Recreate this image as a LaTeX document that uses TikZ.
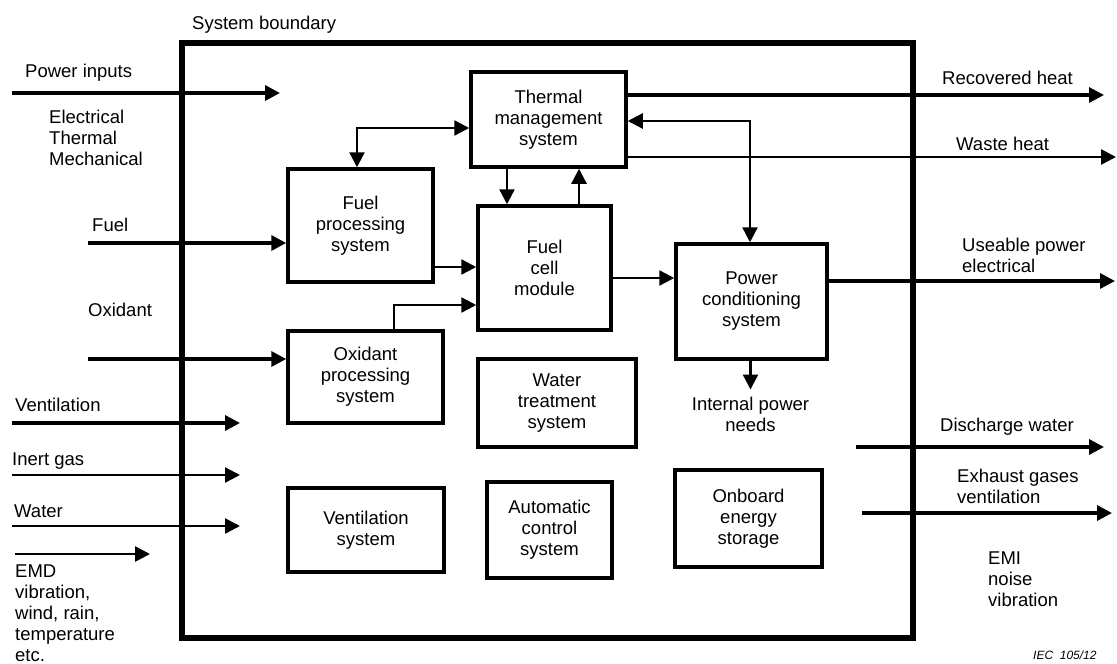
\documentclass[tikz,border=0pt]{standalone}
\usepackage{fontspec}
\setmainfont{Liberation Sans}
\usetikzlibrary{arrows.meta,calc}
\begin{document}
\begin{tikzpicture}[x=1pt,y=-1pt,
  txt/.style={font=\fontsize{18.5}{21}\selectfont},
  box/.style={txt,draw,line width=3.5pt,align=center,inner sep=0pt},
  lbl/.style={txt,align=left,inner sep=0pt,anchor=north west},
  arr/.style={line width=3pt,-{Triangle[length=15pt,width=15pt]}},
  arrthin/.style={line width=2.4pt,-{Triangle[length=15pt,width=15pt]}},
  arrboth/.style={line width=2.4pt,{Triangle[length=15pt,width=15pt]}-{Triangle[length=15pt,width=15pt]}}]
\useasboundingbox (0,0) rectangle (1117,664);
\fill[white] (0,0) rectangle (1117,664);

% system boundary
\node[draw,line width=5.2pt,minimum width=731pt,minimum height=595pt,inner sep=0pt] (sb) at (547.5,340.5) {};
\node[lbl] (sbl) at (192,16) {System boundary};

% boxes
\node[box,minimum width=145pt,minimum height=113pt] (fp) at (360.5,225.5) {Fuel\\processing\\system};
\node[box,minimum width=155pt,minimum height=95pt] (tms) at (548.5,119.5) {Thermal\\management\\system};
\node[box,minimum width=133pt,minimum height=124pt] (fcm) at (544.5,268) {Fuel\\cell\\module};
\node[box,minimum width=155pt,minimum height=92pt] (ox) at (365.5,377) {Oxidant\\processing\\system};
\node[box,minimum width=151pt,minimum height=115pt] (pcs) at (751.5,301.5) {Power\\conditioning\\system};
\node[box,minimum width=158pt,minimum height=88pt] (wt) at (557,403) {Water\\treatment\\system};
\node[box,minimum width=156pt,minimum height=84pt] (vs) at (366,530) {Ventilation\\system};
\node[box,minimum width=125pt,minimum height=96pt] (acs) at (549.5,530) {Automatic\\control\\system};
\node[box,minimum width=147pt,minimum height=97pt] (oes) at (748.5,518.5) {Onboard\\energy\\storage};

% outside labels
\node[lbl] (lpin) at (25,63.5) {Power inputs};
\node[lbl] (letm) at (49,110) {Electrical\\Thermal\\Mechanical};
\node[lbl] (lfuel) at (92,218) {Fuel};
\node[lbl] (lox) at (88,303) {Oxidant};
\node[lbl] (lvent) at (15,398) {Ventilation};
\node[lbl] (linert) at (12,453) {Inert gas};
\node[lbl] (lwater) at (14,505) {Water};
\node[lbl] (lemd) at (15,565) {EMD\\vibration,\\wind, rain,\\temperature\\etc.};
\node[lbl] (lrh) at (942,71) {Recovered heat};
\node[lbl] (lwh) at (956,137) {Waste heat};
\node[lbl] (lup) at (962,238) {Useable power\\electrical};
\node[txt,align=center,inner sep=0pt,anchor=north] (ipn) at (750.5,396.5) {Internal power\\needs};
\node[lbl] (ldw) at (940,418) {Discharge water};
\node[lbl] (lex) at (957,469) {Exhaust gases\\ventilation};
\node[lbl] (lemi) at (988,552) {EMI\\noise\\vibration};
\node[inner sep=0pt,anchor=north west,font=\fontsize{12}{14}\selectfont\itshape] (iec) at (1033,651) {IEC\ \ 105/12};

% input arrows
\coordinate (pinA) at (12,93); \coordinate (pinB) at (280,93);
\draw[arr,line width=3.5pt] (pinA) -- (pinB);
\coordinate (fuelA) at (88,243);
\draw[arr,line width=3.5pt] (fuelA) -- (fuelA -| fp.west);
\coordinate (oxA) at (88,359);
\draw[arr,line width=3.5pt] (oxA) -- (oxA -| ox.west);
\coordinate (ventA) at (12,423); \coordinate (ventB) at (240,423);
\draw[arr,line width=3.5pt] (ventA) -- (ventB);
\coordinate (inA) at (12,475); \coordinate (inB) at (240,475);
\draw[arrthin] (inA) -- (inB);
\coordinate (waA) at (12,526); \coordinate (waB) at (240,526);
\draw[arrthin] (waA) -- (waB);
\coordinate (emdA) at (15,554); \coordinate (emdB) at (150,554);
\draw[arrthin,line width=2.7pt] (emdA) -- (emdB);

% internal connectors
\coordinate (c1) at (357,128);
\draw[arrboth] (c1 |- fp.north) |- (c1 -| tms.west);
\coordinate (x1) at (507,0); \coordinate (x2) at (579,0);
\draw[arrthin] (x1 |- tms.south) -- (x1 |- fcm.north);
\draw[arrthin] (x2 |- fcm.north) -- (x2 |- tms.south);
\coordinate (y1) at (0,267);
\draw[arrthin] (y1 -| fp.east) -- (y1 -| fcm.west);
\coordinate (c2) at (394,305);
\draw[arrthin] (c2 |- ox.north) |- (c2 -| fcm.west);
\coordinate (y2) at (0,278);
\draw[arrthin] (y2 -| fcm.east) -- (y2 -| pcs.west);
\coordinate (c3) at (750,121);
\draw[arrboth] (c3 -| tms.east) -| (c3 |- pcs.north);
\draw[arrthin,shorten >=7pt] (pcs.south -| ipn.north) -- (ipn.north);

% output arrows
\coordinate (rhB) at (1104,95);
\draw[arr,line width=3.2pt] (rhB -| tms.east) -- (rhB);
\coordinate (whB) at (1116,157);
\draw[arrthin,line width=2.7pt] (whB -| tms.east) -- (whB);
\coordinate (upB) at (1115,281);
\draw[arr,line width=3.2pt] (upB -| pcs.east) -- (upB);
\coordinate (dwA) at (856,447); \coordinate (dwB) at (1104,447);
\draw[arr,line width=3.5pt] (dwA) -- (dwB);
\coordinate (exA) at (862,513); \coordinate (exB) at (1112,513);
\draw[arr,line width=3.5pt] (exA) -- (exB);
\end{tikzpicture}
\end{document}
